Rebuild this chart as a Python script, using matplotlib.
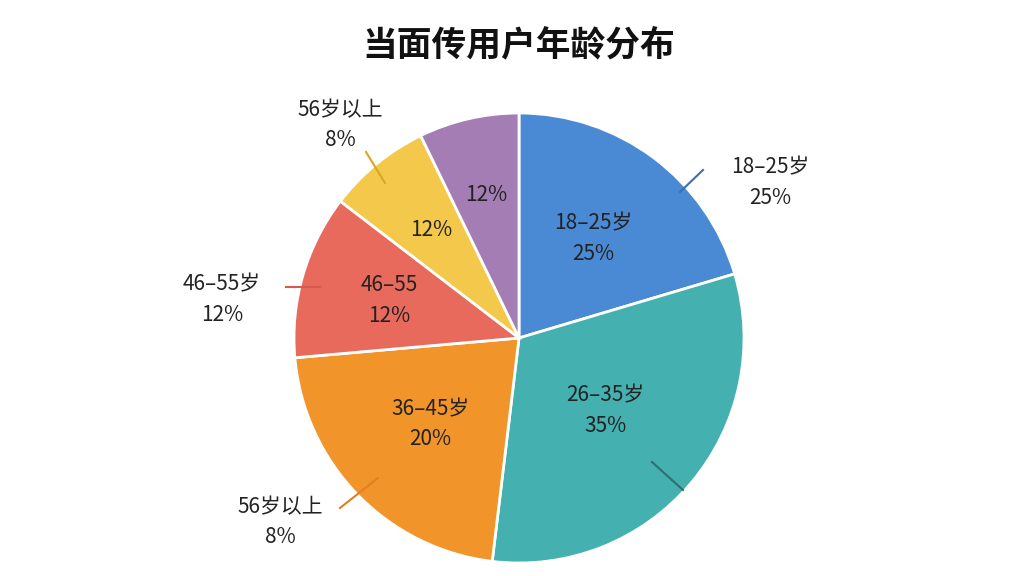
import numpy as np
import matplotlib.pyplot as plt

plt.rcParams['font.family'] = ['Noto Sans CJK SC', 'DejaVu Sans']

# 扇区大小（按图中角度估读，%）
sizes = [20.4, 31.5, 21.7, 11.8, 7.4, 7.2]
inner_labels = ['18–25岁\n25%', '26–35岁\n35%', '36–45岁\n20%', '46–55\n12%', '12%', '12%']
colors = ['#4A8AD4', '#45B0B0', '#F1952B', '#E76A5C', '#F3C84B', '#A57DB5']
inner_dist = [0.55, 0.5, 0.55, 0.6, 0.62, 0.65]

# 外侧标注: 文本, 文本位置, 引线起点, 引线终点 (图像像素坐标, y 向下)
outer_labels = ['18–25岁\n25%', '56岁以上\n8%', '46–55岁\n12%', '56岁以上\n8%']
outer_text_pos = [(770, 183), (340, 125), (222, 300), (280, 522)]
outer_line = [((703, 170), (680, 192)), ((366, 152), (385, 183)),
              ((286, 287), (320, 287)), ((340, 508), (378, 478))]
outer_colors = ['#3A6FB0', '#D9A820', '#D85A4C', '#E08020']

W, H = 1024, 576
cx, cy, r = 519, 338, 225


def fy(y):
    return H - y


fig = plt.figure(figsize=(10.24, 5.76), dpi=100)
ax = fig.add_axes([0, 0, 1, 1])

wedges, _ = ax.pie(sizes, colors=colors, startangle=90, counterclock=False,
                   radius=r, center=(cx, fy(cy)), frame=True,
                   wedgeprops=dict(edgecolor='white', linewidth=2))
ax.set_xlim(0, W)
ax.set_ylim(0, H)
ax.set_aspect('equal')
ax.axis('off')

for w, lab, d in zip(wedges, inner_labels, inner_dist):
    ang = np.deg2rad((w.theta1 + w.theta2) / 2)
    x = cx + r * d * np.cos(ang)
    y = fy(cy) + r * d * np.sin(ang)
    ax.text(x, y, lab, ha='center', va='center', fontsize=15, color='#222222',
            linespacing=1.5)

for lab, pos, (p0, p1), c in zip(outer_labels, outer_text_pos, outer_line, outer_colors):
    ax.text(pos[0], fy(pos[1]), lab, ha='center', va='center', fontsize=15,
            color='#222222', linespacing=1.5)
    ax.plot([p0[0], p1[0]], [fy(p0[1]), fy(p1[1])], color=c, lw=1.5)

ax.plot([652, 683], [fy(462), fy(490)], color='#2E6F70', lw=1.5)

ax.text(cx, fy(45), '当面传用户年龄分布', ha='center', va='center', fontsize=25,
        fontweight='bold', color='#111111')

fig.savefig('out.png', dpi=100)
